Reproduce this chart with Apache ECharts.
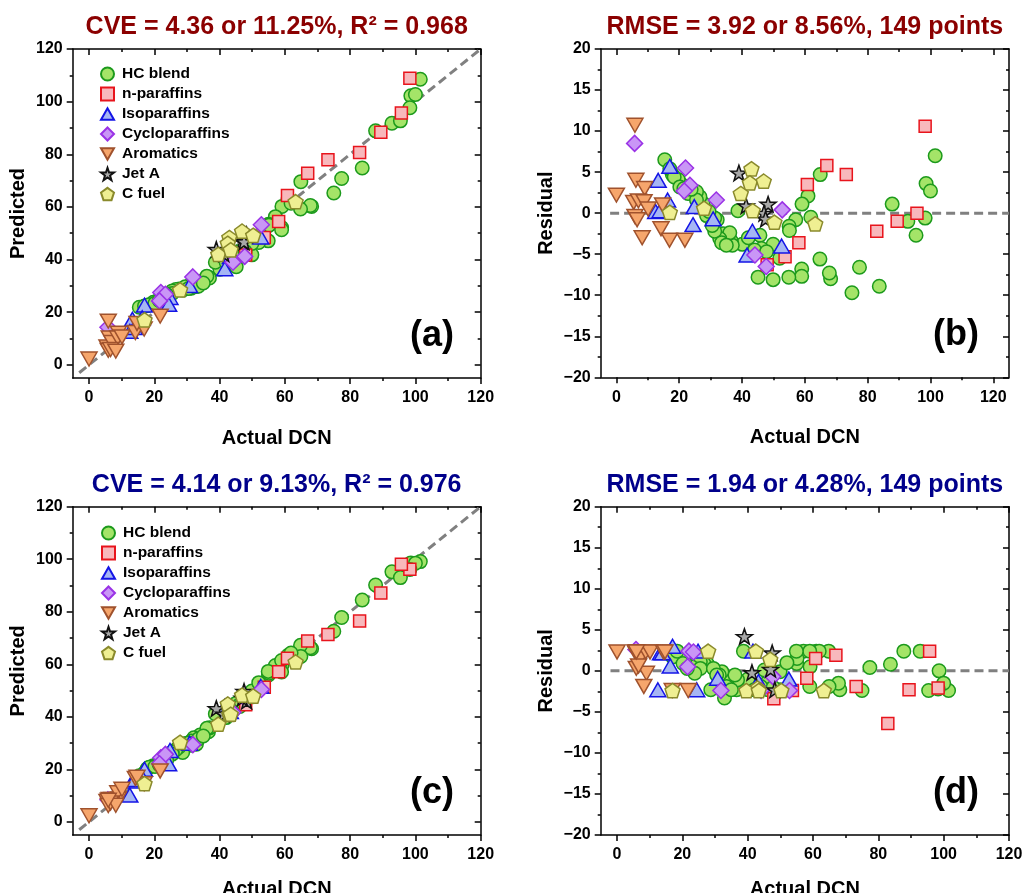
<!DOCTYPE html>
<html>
<head>
<meta charset="utf-8">
<title>DCN prediction and residuals</title>
<script src="https://cdn.jsdelivr.net/npm/echarts@6/dist/echarts.min.js"></script>
<style>
    html, body { margin: 0; padding: 0; background: #fff; }
    #chart { width: 1024px; height: 893px; }
</style>
</head>
<body>
<div id="chart"></div>
<script>
const categories = ['HC blend', 'n-paraffins', 'Isoparaffins', 'Cycloparaffins', 'Aromatics', 'Jet A', 'C fuel'];

// actual DCN, residual of model 1 (panels a/b), residual of model 2 (panels c/d)
const hcActual = [
    101.5, 98.6, 100.0, 87.8, 92.8, 98.3, 95.4, 83.7, 77.4, 75.0,
    68.2, 67.8, 64.8, 64.9, 61.0, 59.1, 61.9, 57.1, 55.0, 55.1,
    59.0, 59.0, 54.9, 49.9, 45.1, 52.0, 49.9, 45.7, 46.2, 40.1,
    38.7, 36.6, 36.9, 34.0, 36.1, 32.9, 31.3, 32.1, 31.3, 28.7,
    27.6, 26.6, 25.5, 22.8, 20.7, 19.7, 17.8, 15.4, 17.0, 18.4,
    20.2, 25.5, 29.5, 30.5, 33.5, 35.0, 42.0, 44.0, 47.8, 23.8,
    21.5
];
const hcRes1 = [
    7.0, 3.6, 2.7, 1.1, -1.0, -0.6, -2.7, -8.9, -6.6, -9.7,
    -8.0, -7.3, -5.6, 4.7, 2.1, 1.1, -0.5, -0.8, -1.6, -2.1,
    -6.8, -7.7, -7.8, -8.1, -7.8, -5.5, -3.8, -2.7, -4.3, -3.8,
    0.3, -3.4, -3.9, -2.5, -2.4, -3.1, -2.2, -0.8, -0.6, -0.3,
    1.2, 2.0, 2.6, 2.4, 3.5, 4.1, 4.7, 6.5, 5.4, 4.4,
    3.2, 1.6, 0.2, -1.5, -3.6, -3.9, -3.0, -4.5, -4.7, 2.9,
    3.0
];
const hcRes2 = [
    -2.4, 0.0, -1.5, 2.4, 2.4, -2.2, -2.4, 0.8, 0.4, -2.4,
    -2.3, -1.5, 2.4, -1.9, 2.4, 0.5, 2.4, 2.4, 0.9, 1.5,
    -1.9, 2.4, 2.4, -0.1, 0.1, 1.0, -2.3, -1.5, -2.3, -1.0,
    2.4, -2.3, -1.1, -0.9, -0.5, -3.3, -2.1, -0.1, -0.5, -2.3,
    0.9, 0.9, 1.1, 0.5, 1.1, 1.7, 2.4, 2.2, 1.7, 2.4,
    0.9, 0.3, 0.3, -0.5, -1.9, -2.3, -2.3, -1.9, -2.0, -0.3,
    0.3
];

const npActual = [98.3, 95.7, 89.4, 82.9, 73.2, 67.0, 60.8, 58.1, 53.7, 48.0];
const npRes1 = [10.6, 0.0, -1.0, -2.2, 4.7, 5.8, 3.5, -3.6, -5.3, -6.3];
const npRes2 = [-2.1, 2.4, -2.3, -6.4, -1.9, 1.9, 1.5, -0.9, -2.4, -3.4];

const isoActual = [17.0, 13.3, 16.3, 12.5, 13.9, 24.8, 24.4, 30.8, 43.3, 41.6, 52.6];
const isoRes1 = [5.7, 4.0, 1.6, 0.2, 0.3, 0.8, -1.4, -0.7, -2.2, -5.1, -4.0];
const isoRes2 = [3.0, 2.2, 0.6, -2.3, 2.2, 2.4, -2.3, -0.9, -1.3, 2.4, -1.0];

const cycActual = [5.8, 22.0, 23.4, 21.6, 31.8, 52.8, 44.1, 47.7];
const cycRes1 = [8.5, 5.5, 3.4, 2.7, 1.6, 0.4, -5.1, -6.5];
const cycRes2 = [2.6, 2.4, 2.3, 0.5, -2.4, -2.4, -2.4, -0.7];

const aroActual = [0.0, 6.2, 9.0, 5.5, 7.0, 8.8, 10.1, 5.9, 6.6, 8.2, 14.2, 16.9, 21.8, 14.7, 5.9];
const aroRes1 = [2.2, 4.0, 3.0, 1.3, 1.5, 1.4, 0.5, -0.4, -0.8, -3.0, -1.9, -3.3, -3.3, 1.0, 10.7];
const aroRes2 = [2.3, 2.3, -0.3, 2.3, 1.5, 2.3, 2.3, 0.3, 0.6, -1.9, 2.3, -2.4, -2.4, 2.3, 2.3];

const jetActual = [39.0, 41.3, 48.3, 47.0, 47.5];
const jetRes1 = [4.9, 0.9, 1.1, 0.0, -0.7];
const jetRes2 = [4.2, -0.2, -2.3, 0.2, 2.2];

const cfActual = [43.0, 42.5, 46.9, 39.6, 43.4, 50.3, 63.3, 27.9, 17.0];
const cfRes1 = [5.4, 3.7, 3.9, 2.4, 0.3, -1.1, -1.3, 0.6, 0.1];
const cfRes2 = [-2.1, 2.4, 1.4, -2.4, -2.4, -2.4, -2.4, 2.4, -2.4];

const dcnTicks = [0, 20, 40, 60, 80, 100, 120];
const dcnMinor = [10, 30, 50, 70, 90, 110];
const resTicks = [-20, -15, -10, -5, 0, 5, 10, 15, 20];
const resMinor = [-17.5, -12.5, -7.5, -2.5, 2.5, 7.5, 12.5, 17.5];

const panelTitles = [
    'CVE = 4.36 or 11.25%, R² = 0.968',
    'RMSE = 3.92 or 8.56%, 149 points',
    'CVE = 4.14 or 9.13%, R² = 0.976',
    'RMSE = 1.94 or 4.28%, 149 points',
];
const panelTags = ['(a)', '(b)', '(c)', '(d)'];

const groups = [
    {actual: hcActual, res1: hcRes1, res2: hcRes2},
    {actual: npActual, res1: npRes1, res2: npRes2},
    {actual: isoActual, res1: isoRes1, res2: isoRes2},
    {actual: cycActual, res1: cycRes1, res2: cycRes2},
    {actual: aroActual, res1: aroRes1, res2: aroRes2},
    {actual: jetActual, res1: jetRes1, res2: jetRes2},
    {actual: cfActual, res1: cfRes1, res2: cfRes2},
];

const FONT = '"Liberation Sans", Arial, Helvetica, sans-serif';
const TRI_UP = 'path://M50,0L100,87L0,87Z';
const TRI_DOWN = 'path://M0,0L100,0L50,87Z';
const STAR = 'path://M50,0L61.8,35.1L98.5,35.5L69.1,57.6L79.4,92.5L50,71.5L20.6,92.5L30.9,57.6L1.5,35.5L38.2,35.1Z';
const PENTAGON = 'path://M50,0L97.6,34.5L79.4,90.5L20.6,90.5L2.4,34.5Z';

const markers = [
    {symbol: 'circle', size: 13.5, color: '#a4e468', border: '#1c9a1c'},
    {symbol: 'rect', size: 12, color: '#f8b8bc', border: '#e8141c'},
    {symbol: TRI_UP, size: 16, color: '#a6b6f4', border: '#1414e6'},
    {symbol: 'diamond', size: 16, color: '#c996f6', border: '#9a32e6'},
    {symbol: TRI_DOWN, size: 16, color: '#f6a66c', border: '#a0522d'},
    {symbol: STAR, size: 16, color: '#a8a8a8', border: '#111111'},
    {symbol: PENTAGON, size: 15, color: '#efef92', border: '#8a8a2c'},
];

const grids = [
    {left: 72.7, top: 49, width: 408, height: 329},
    {left: 600.7, top: 49, width: 408.3, height: 328.3},
    {left: 72.7, top: 506.7, width: 408, height: 328.3},
    {left: 600.7, top: 506.7, width: 408.3, height: 328.3},
].map((g) => Object.assign({containLabel: false, outerBoundsMode: 'none'}, g));

const axisColor = '#000';
const signed = (v) => String(v).replace('-', '\u2212');

function makeAxes(dim, gridIndex, min, max, majors, minors, name, nameGap) {
    const near = dim === 'x' ? 'bottom' : 'left';
    const far = dim === 'x' ? 'top' : 'right';
    const base = {type: 'value', gridIndex: gridIndex, min: min, max: max, splitLine: {show: false}};
    const line = {show: true, onZero: false, lineStyle: {color: axisColor, width: 1.5}};
    const tick = (values, len, inside) => ({
        show: true, inside: inside, length: len, customValues: values,
        lineStyle: {color: axisColor, width: 1.5},
    });
    return [
        Object.assign({}, base, {
            position: near,
            name: name,
            nameLocation: 'middle',
            nameGap: nameGap,
            nameTextStyle: {fontFamily: FONT, fontSize: 20, fontWeight: 'bold', color: '#000'},
            axisLine: line,
            axisTick: tick(majors, 6, false),
            axisLabel: {
                show: true, customValues: majors, formatter: signed,
                margin: dim === 'x' ? 12 : 10,
                fontFamily: FONT, fontSize: 16, fontWeight: 'bold', color: '#000',
            },
        }),
        Object.assign({}, base, {
            position: near,
            axisLine: {show: false, onZero: false},
            axisTick: tick(minors, 3, false),
            axisLabel: {show: false},
        }),
        Object.assign({}, base, {
            position: far,
            axisLine: line,
            axisTick: tick(majors, 6, true),
            axisLabel: {show: false},
        }),
        Object.assign({}, base, {
            position: far,
            axisLine: {show: false, onZero: false},
            axisTick: tick(minors, 3, true),
            axisLabel: {show: false},
        }),
    ];
}

// panel layout: which residual, whether y is predicted or residual, axis ranges
const panels = [
    {res: 'res1', predicted: true, xMax: 120, nameGap: 50, ref: [[-3, -3], [120, 120]]},
    {res: 'res1', predicted: false, xMax: 125, nameGap: 50, ref: [[-2, 0], [125, 0]]},
    {res: 'res2', predicted: true, xMax: 120, nameGap: 44, ref: [[-3, -3], [120, 120]]},
    {res: 'res2', predicted: false, xMax: 120, nameGap: 44, ref: [[-2, 0], [120, 0]]},
];

let xAxes = [];
let yAxes = [];
const series = [];

panels.forEach((p, gi) => {
    xAxes = xAxes.concat(makeAxes('x', gi, -5, p.xMax, dcnTicks, dcnMinor, 'Actual DCN', p.nameGap));
    if (p.predicted) {
        yAxes = yAxes.concat(makeAxes('y', gi, -5, 120, dcnTicks, dcnMinor, 'Predicted', 44));
    } else {
        yAxes = yAxes.concat(makeAxes('y', gi, -20, 20, resTicks, resMinor, 'Residual', 44));
    }
    series.push({
        type: 'line',
        xAxisIndex: gi * 4,
        yAxisIndex: gi * 4,
        data: p.ref,
        symbol: 'none',
        silent: true,
        z: 1,
        lineStyle: {color: '#808080', width: 3, type: [9, 5]},
    });
    groups.forEach((g, ci) => {
        const m = markers[ci];
        series.push({
            type: 'scatter',
            name: categories[ci],
            xAxisIndex: gi * 4,
            yAxisIndex: gi * 4,
            symbol: m.symbol,
            symbolSize: m.size,
            symbolKeepAspect: true,
            z: 2,
            itemStyle: {color: m.color, borderColor: m.border, borderWidth: 1.5, opacity: 1},
            // predicted = actual + residual
            data: g.actual.map((a, i) => {
                const r = g[p.res][i];
                return [a, p.predicted ? +(a + r).toFixed(2) : r];
            }),
        });
    });
});

function legendAt(left, top) {
    return {
        orient: 'vertical',
        left: left,
        top: top,
        itemWidth: 13,
        itemHeight: 13,
        itemGap: 4,
        selectedMode: false,
        textStyle: {
            fontFamily: FONT, fontSize: 15.5, fontWeight: 'bold', color: '#000',
            lineHeight: 15, padding: [0, 0, 0, 3],
        },
        data: categories.map((name, i) => ({name: name, icon: markers[i].symbol})),
    };
}

const titleColors = ['#8b0000', '#8b0000', '#00008b', '#00008b'];
const tagPos = [[432, 336], [956, 335], [432, 793], [956, 793]];

const chart = echarts.init(document.getElementById('chart'));
chart.setOption({
    animation: false,
    backgroundColor: '#fff',
    title: grids.map((gr, i) => ({
        text: panelTitles[i],
        left: gr.left + gr.width / 2,
        top: i < 2 ? 15 : 473,
        textAlign: 'center',
        padding: 0,
        textStyle: {fontFamily: FONT, fontSize: 25, fontWeight: 'bold', color: titleColors[i]},
    })),
    legend: [legendAt(95, 61), legendAt(96, 520)],
    grid: grids,
    xAxis: xAxes,
    yAxis: yAxes,
    series: series,
    graphic: panelTags.map((t, i) => ({
        type: 'text',
        x: tagPos[i][0],
        y: tagPos[i][1],
        silent: true,
        style: {
            text: t, fill: '#000', fontFamily: FONT, fontSize: 36, fontWeight: 'bold',
            align: 'center', verticalAlign: 'middle',
        },
    })),
});
</script>
</body>
</html>
